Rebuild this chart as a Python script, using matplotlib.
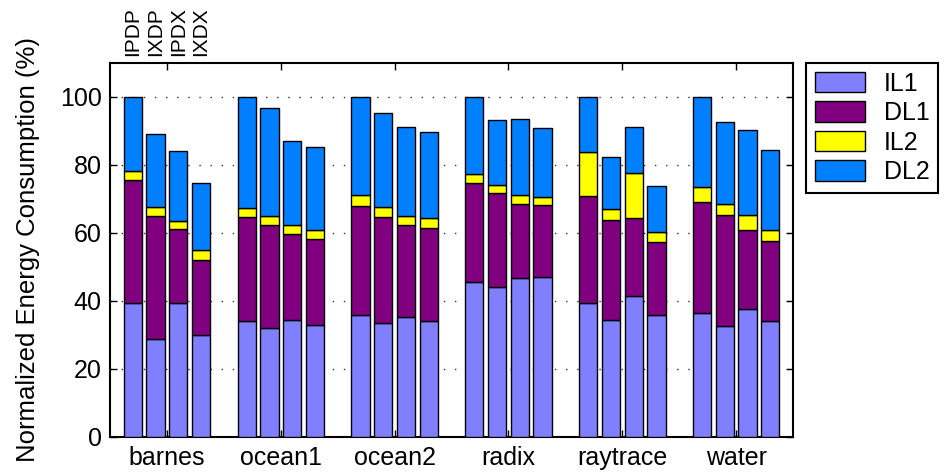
import numpy as np
import matplotlib
matplotlib.use("Agg")
import matplotlib.pyplot as plt
from matplotlib.transforms import blended_transform_factory

plt.rcParams['font.family'] = ['Liberation Sans', 'DejaVu Sans']
plt.rcParams['font.size'] = 18

benchmarks = ['barnes', 'ocean1', 'ocean2', 'radix', 'raytrace', 'water']
configs = ['IPDP', 'IXDP', 'IPDX', 'IXDX']
components = ['IL1', 'DL1', 'IL2', 'DL2']
colors = ['#8080ff', '#800080', '#ffff00', '#0080ff']

# segment sizes (% of IPDP total), 4 configs per benchmark
il1 = [39.3, 28.8, 39.3, 29.8,
       34.1, 32.0, 34.4, 32.9,
       35.9, 33.4, 35.1, 34.1,
       45.6, 44.2, 46.7, 47.0,
       39.3, 34.4, 41.3, 35.9,
       36.4, 32.7, 37.6, 34.2]
dl1 = [36.2, 36.1, 21.9, 22.3,
       30.6, 30.4, 25.3, 25.4,
       32.0, 31.3, 27.1, 27.2,
       29.1, 27.6, 21.9, 21.3,
       31.6, 29.4, 23.1, 21.3,
       32.8, 32.7, 23.3, 23.4]
il2 = [2.7, 2.6, 2.4, 2.8,
       2.7, 2.7, 2.7, 2.6,
       3.2, 3.0, 2.9, 3.0,
       2.7, 2.4, 2.6, 2.3,
       12.9, 3.1, 13.3, 3.0,
       4.4, 3.0, 4.4, 3.2]
dl2 = [21.8, 21.6, 20.4, 19.8,
       32.6, 31.7, 24.7, 24.4,
       28.9, 27.6, 26.0, 25.5,
       22.6, 19.1, 22.2, 20.2,
       16.2, 15.5, 13.6, 13.6,
       26.4, 24.2, 25.1, 23.5]

fig = plt.figure(figsize=(9.51, 4.76), dpi=100)
ax = fig.add_axes([0.1157, 0.0826, 0.7182, 0.785])

n_cfg = len(configs)
x = np.array([g * (n_cfg + 1) + j for g in range(len(benchmarks)) for j in range(n_cfg)])

bottom = np.zeros(len(x))
handles = []
for vals, col, name in zip([il1, dl1, il2, dl2], colors, components):
    b = ax.bar(x, vals, width=0.8, bottom=bottom, color=col, edgecolor='black',
               linewidth=1.0, label=name, zorder=3)
    handles.append(b)
    bottom += np.array(vals)

ax.set_xlim(-1, len(benchmarks) * (n_cfg + 1) - 1)
ax.set_ylim(0, 110)
ax.set_yticks(range(0, 101, 20))
centers = [g * (n_cfg + 1) + (n_cfg - 1) / 2 for g in range(len(benchmarks))]
ax.set_xticks(centers)
ax.set_xticklabels(benchmarks)
ax.tick_params(direction='in', top=True, right=True, length=5, width=1)
ax.tick_params(axis='x', pad=7)
ax.tick_params(axis='y', pad=6)
ax.yaxis.grid(True, linestyle=(0, (1, 7)), color='#333333', linewidth=1)
ax.set_axisbelow(True)
for s in ax.spines.values():
    s.set_linewidth(1.5)

ax.set_ylabel('Normalized Energy Consumption (%)', fontsize=18.5, labelpad=14)

trans = blended_transform_factory(ax.transData, ax.transAxes)
for j, c in enumerate(configs):
    ax.text(x[j], 1.02, c, rotation=90, ha='center', va='bottom', transform=trans,
            fontsize=15)

leg = fig.legend(handles, components, loc='upper left', bbox_to_anchor=(806 / 951, 1 - 63 / 476),
                 fancybox=False, edgecolor='black', framealpha=1, handlelength=2.0,
                 handleheight=0.87, labelspacing=0.22, handletextpad=0.75, borderpad=0.35,
                 borderaxespad=0)
leg.get_frame().set_linewidth(1.5)

fig.savefig('out.png', dpi=100)
